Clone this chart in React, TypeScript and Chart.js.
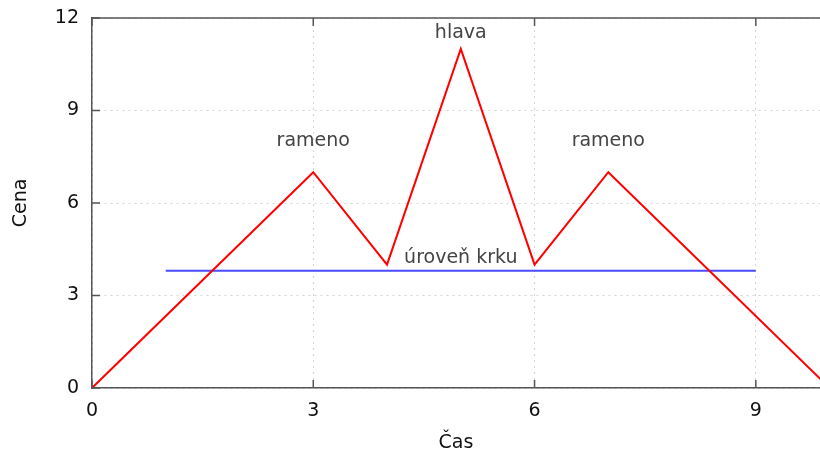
import React, { useEffect, useRef } from "react";
import { Chart, registerables } from "chart.js";

Chart.register(...registerables);

const priceX = [0, 3, 4, 5, 6, 7, 10];
const priceY = [0, 7, 4, 11, 4, 7, 0];
const neckX = [1, 9];
const neckY = [3.8, 3.8];
const xTicks = [0, 3, 6, 9];
const yTicks = [0, 3, 6, 9, 12];
const labelTexts = ["rameno", "hlava", "rameno", "úroveň krku"];
const labelX = [3, 5, 7, 5];
const labelY = [8.0, 11.5, 8.0, 4.2];

const FONT = "'DejaVu Sans', sans-serif";
const AXIS_COLOR = "#555555";

const framePlugin = {
  id: "frameAndLabels",
  afterDatasetsDraw(chart: any) {
    const { ctx, chartArea, scales } = chart;
    const xs = scales.x;
    const ys = scales.y;
    ctx.save();
    ctx.strokeStyle = AXIS_COLOR;
    ctx.lineWidth = 1.5;
    ctx.beginPath();
    ctx.moveTo(chartArea.left, chartArea.top);
    ctx.lineTo(chartArea.right, chartArea.top);
    ctx.stroke();
    const tl = 8;
    ctx.beginPath();
    xTicks.forEach((v) => {
      const px = xs.getPixelForValue(v);
      ctx.moveTo(px, chartArea.bottom);
      ctx.lineTo(px, chartArea.bottom - tl);
      ctx.moveTo(px, chartArea.top);
      ctx.lineTo(px, chartArea.top + tl);
    });
    yTicks.forEach((v) => {
      const py = ys.getPixelForValue(v);
      ctx.moveTo(chartArea.left, py);
      ctx.lineTo(chartArea.left + tl, py);
    });
    ctx.stroke();
    ctx.fillStyle = "#444444";
    ctx.font = "19px " + FONT;
    ctx.textAlign = "center";
    ctx.textBaseline = "middle";
    labelTexts.forEach((t, i) => {
      ctx.fillText(t, xs.getPixelForValue(labelX[i]), ys.getPixelForValue(labelY[i]));
    });
    ctx.restore();
  },
};

export default function App() {
  const ref = useRef<HTMLCanvasElement | null>(null);
  useEffect(() => {
    if (!ref.current) return;
    const chart = new Chart(ref.current, {
      type: "line",
      data: {
        datasets: [
          {
            data: priceX.map((x, i) => ({ x, y: priceY[i] })),
            borderColor: "#ff0000",
            borderWidth: 2,
            pointRadius: 0,
            fill: false,
            tension: 0,
          },
          {
            data: neckX.map((x, i) => ({ x, y: neckY[i] })),
            borderColor: "#4a4aff",
            borderWidth: 2,
            pointRadius: 0,
            fill: false,
          },
        ],
      },
      options: {
        animation: false,
        responsive: false,
        devicePixelRatio: 1,
        layout: { padding: { left: 0, right: 0, top: 18, bottom: 0 } },
        plugins: { legend: { display: false }, tooltip: { enabled: false } },
        scales: {
          x: {
            type: "linear",
            min: 0,
            max: 9.87,
            afterBuildTicks: (s: any) => {
              s.ticks = xTicks.map((v) => ({ value: v }));
            },
            afterFit: (s: any) => {
              s.height = 66;
              s.paddingLeft = 0;
              s.paddingRight = 0;
            },
            grid: {
              drawTicks: false,
              color: "#d4d4d4",
              lineWidth: 1,
            },
            border: { display: true, color: AXIS_COLOR, width: 1.5, dash: [2, 4] } as any,
            ticks: {
              padding: 12,
              color: "#111111",
              font: { family: FONT, size: 19 },
              maxRotation: 0,
            },
            title: {
              display: true,
              text: "Čas",
              color: "#111111",
              font: { family: FONT, size: 19 },
              padding: { top: 0, bottom: 0 },
            },
          },
          y: {
            type: "linear",
            min: 0,
            max: 12,
            afterBuildTicks: (s: any) => {
              s.ticks = yTicks.map((v) => ({ value: v }));
            },
            afterFit: (s: any) => {
              s.width = 92;
              s.paddingTop = 0;
              s.paddingBottom = 0;
            },
            grid: {
              drawTicks: false,
              color: "#d4d4d4",
              lineWidth: 1,
            },
            border: { display: true, color: AXIS_COLOR, width: 1.5, dash: [2, 4] } as any,
            ticks: {
              padding: 13,
              color: "#111111",
              font: { family: FONT, size: 19 },
            },
            title: {
              display: true,
              text: "Cena",
              color: "#111111",
              font: { family: FONT, size: 19 },
              padding: { top: 10, bottom: 0 },
            },
          },
        },
      },
      plugins: [framePlugin],
    } as any);
    return () => chart.destroy();
  }, []);
  return (
    <div style={{ position: "fixed", left: 0, top: 0, width: 820, height: 454, background: "#fff" }}>
      <canvas ref={ref} width={820} height={454} style={{ display: "block" }} />
    </div>
  );
}
